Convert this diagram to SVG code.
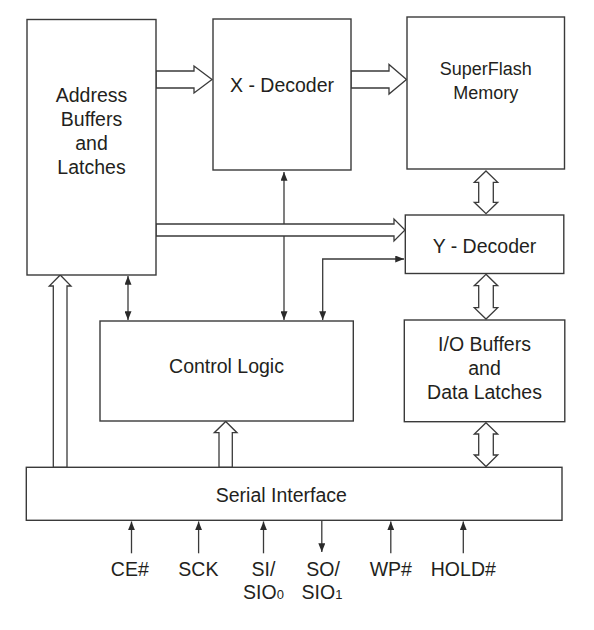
<svg xmlns="http://www.w3.org/2000/svg" width="594" height="630" viewBox="0 0 594 630">
<style>
.box{fill:#fff;stroke:#3a3a3a;stroke-width:1.4}
.ln{fill:none;stroke:#3a3a3a;stroke-width:1.3}
.ha{fill:#fff;stroke:#3a3a3a;stroke-width:1.3;stroke-linejoin:miter}
text{font-family:"Liberation Sans",Arial,sans-serif;font-size:19.5px;fill:#231f20;text-anchor:middle}
.sub{font-size:13px}
</style>
<defs>
<marker id="ah" viewBox="0 0 10 8" refX="10" refY="4" markerWidth="9" markerHeight="7" markerUnits="userSpaceOnUse" orient="auto-start-reverse">
<path d="M0,0 L10,4 L0,8 Z" fill="#2a2a2a"/>
</marker>
</defs>
<rect width="594" height="630" fill="#fff"/>
<g id="connectors">
<line class="ln" x1="284" y1="320" x2="284" y2="172" marker-start="url(#ah)" marker-end="url(#ah)"/>
<line class="ln" x1="128" y1="320" x2="128" y2="276" marker-start="url(#ah)" marker-end="url(#ah)"/>
<polyline class="ln" points="322.7,320 322.7,259 404,259" marker-start="url(#ah)" marker-end="url(#ah)"/>
<polygon class="ha" points="156,71 194,71 194,66 212,79.5 194,93 194,88 156,88"/>
<polygon class="ha" points="351,71 389,71 389,64.5 406.5,79.5 389,94 389,88 351,88"/>
<polygon class="ha" points="156,224 394,224 394,219 405,230 394,241 394,236 156,236"/>
<polygon class="ha" points="486,171 497.7,182.3 493.3,182.3 493.3,202.3 497.7,202.3 486,213.7 474.3,202.3 478.7,202.3 478.7,182.3 474.3,182.3"/>
<polygon class="ha" points="486,274.3 497.7,285.7 493.3,285.7 493.3,307.7 497.7,307.7 486,319 474.3,307.7 478.7,307.7 478.7,285.7 474.3,285.7"/>
<polygon class="ha" points="486,422.7 497.7,434 493.3,434 493.3,455 497.7,455 486,466.5 474.3,455 478.7,455 478.7,434 474.3,434"/>
<polygon class="ha" points="53.3,467.3 53.3,286 49.3,286 60.2,275 71,286 67,286 67,467.3"/>
<polygon class="ha" points="219,467.3 219,432.7 214.3,432.7 225.7,421.5 237,432.7 232.3,432.7 232.3,467.3"/>
<line class="ln" x1="131.5" y1="553.3" x2="131.5" y2="521.5" marker-end="url(#ah)"/>
<line class="ln" x1="198.6" y1="553.3" x2="198.6" y2="521.5" marker-end="url(#ah)"/>
<line class="ln" x1="263.5" y1="553.3" x2="263.5" y2="521.5" marker-end="url(#ah)"/>
<line class="ln" x1="321.8" y1="520.3" x2="321.8" y2="552" marker-end="url(#ah)"/>
<line class="ln" x1="390.8" y1="553.3" x2="390.8" y2="521.5" marker-end="url(#ah)"/>
<line class="ln" x1="463.3" y1="553.3" x2="463.3" y2="521.5" marker-end="url(#ah)"/>
</g>
<g id="address">
<rect class="box" x="27" y="19.5" width="129" height="255.5"/>
<text x="91.5" y="102">Address</text>
<text x="91.5" y="126">Buffers</text>
<text x="91.5" y="150">and</text>
<text x="91.5" y="174">Latches</text>
</g>
<g id="xdecoder">
<rect class="box" x="213" y="19" width="138" height="151"/>
<text x="282" y="92">X - Decoder</text>
</g>
<g id="superflash">
<rect class="box" x="407" y="17" width="157.5" height="152"/>
<text x="485.7" y="75" style="font-size:18px">SuperFlash</text>
<text x="485.7" y="99" style="font-size:18px">Memory</text>
</g>
<g id="ydecoder">
<rect class="box" x="405.3" y="215" width="158.5" height="58.5"/>
<text x="484.5" y="252.5">Y - Decoder</text>
</g>
<g id="iobuffers">
<rect class="box" x="404.3" y="320" width="160.5" height="101.7"/>
<text x="484.5" y="351">I/O Buffers</text>
<text x="484.5" y="375">and</text>
<text x="484.5" y="399">Data Latches</text>
</g>
<g id="control">
<rect class="box" x="100" y="321" width="253.3" height="100"/>
<text x="226.5" y="372.5">Control Logic</text>
</g>
<g id="serial">
<rect class="box" x="26.3" y="467.3" width="535.7" height="53"/>
<text x="281.3" y="501.5">Serial Interface</text>
</g>
<g id="pins">
<text x="129.8" y="575.7">CE#</text>
<text x="198.4" y="575.7">SCK</text>
<text x="263.5" y="575.7">SI/</text>
<text x="263.5" y="599.3">SIO<tspan class="sub">0</tspan></text>
<text x="323" y="575.7">SO/</text>
<text x="322" y="599.3">SIO<tspan class="sub">1</tspan></text>
<text x="390.8" y="575.7">WP#</text>
<text x="463.3" y="575.7">HOLD#</text>
</g>
</svg>
